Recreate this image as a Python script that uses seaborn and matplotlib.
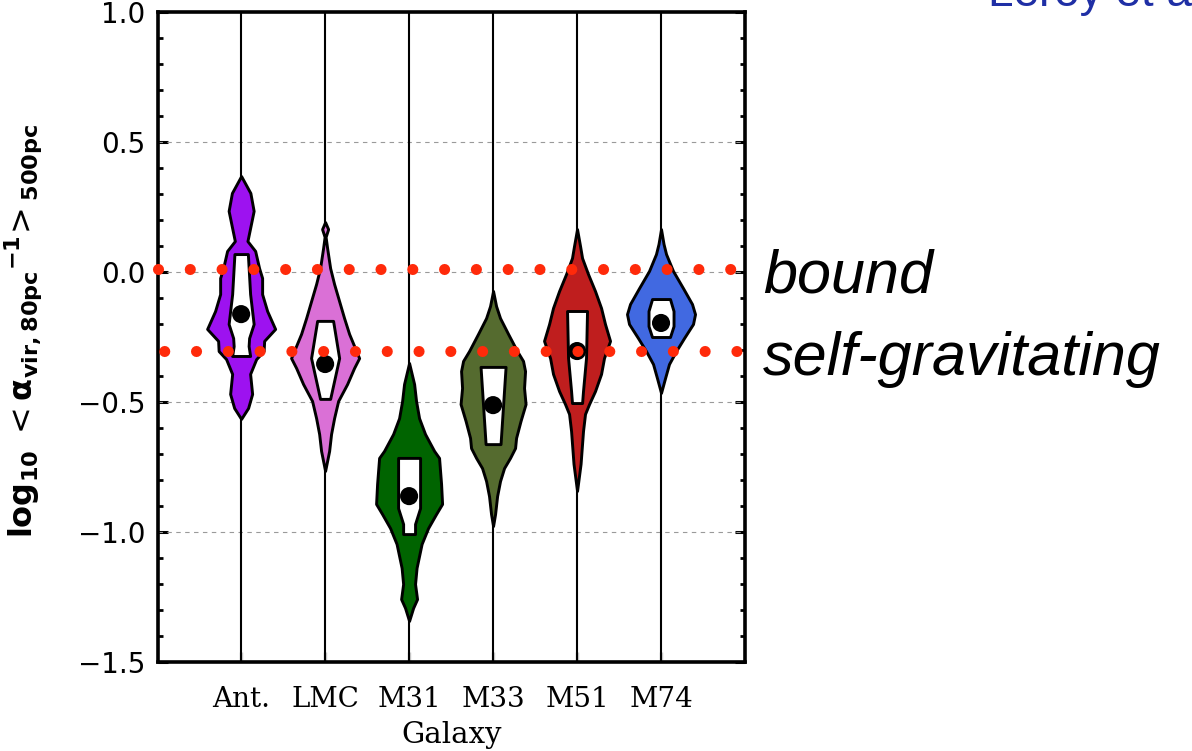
import numpy as np
import pandas as pd
import matplotlib
matplotlib.use("Agg")
import matplotlib.pyplot as plt
from matplotlib.ticker import MultipleLocator
import seaborn as sns

# ---- galaxies and colours ----
galaxies = ["Ant.", "LMC", "M31", "M33", "M51", "M74"]
colors = ["#9d12f0", "#da70d6", "#006400", "#556b2f", "#bf1e1e", "#4169e1"]

# ---- violin outlines: log10 level and half-width (in category units) ----
ant_y = [0.369, 0.304, 0.235, 0.169, 0.119, 0.081, 0.015, -0.023, -0.085, -0.150, -0.219,
         -0.265, -0.304, -0.335, -0.392, -0.469, -0.523, -0.565]
ant_w = [0.0, 0.110, 0.149, 0.107, 0.075, 0.167, 0.214, 0.250, 0.250, 0.310, 0.405,
         0.274, 0.268, 0.179, 0.107, 0.131, 0.083, 0.0]

lmc_y = [0.192, 0.165, 0.135, 0.092, 0.015, -0.046, -0.112, -0.177, -0.238, -0.331,
         -0.369, -0.431, -0.496, -0.562, -0.623, -0.688, -0.765]
lmc_w = [0.0, 0.036, 0.006, 0.024, 0.060, 0.107, 0.167, 0.226, 0.286, 0.405,
         0.345, 0.262, 0.155, 0.107, 0.071, 0.048, 0.0]

m31_y = [-0.350, -0.431, -0.496, -0.562, -0.623, -0.688, -0.715, -0.815, -0.892, -0.931,
         -0.985, -1.046, -1.138, -1.200, -1.258, -1.292, -1.342]
m31_w = [0.0, 0.060, 0.083, 0.119, 0.190, 0.298, 0.357, 0.381, 0.393, 0.321,
         0.226, 0.149, 0.089, 0.071, 0.095, 0.048, 0.0]

m33_y = [-0.073, -0.131, -0.177, -0.238, -0.304, -0.342, -0.381, -0.446, -0.508, -0.573,
         -0.638, -0.677, -0.715, -0.754, -0.804, -0.862, -0.931, -0.977]
m33_w = [0.0, 0.036, 0.083, 0.179, 0.286, 0.357, 0.381, 0.369, 0.387, 0.327,
         0.274, 0.262, 0.202, 0.131, 0.083, 0.048, 0.024, 0.0]

m51_y = [0.165, 0.100, 0.054, -0.008, -0.073, -0.138, -0.200, -0.265, -0.331, -0.392,
         -0.458, -0.508, -0.546, -0.612, -0.738, -0.842]
m51_w = [0.0, 0.036, 0.060, 0.131, 0.214, 0.286, 0.333, 0.393, 0.321, 0.286,
         0.214, 0.143, 0.095, 0.071, 0.042, 0.0]

m74_y = [0.165, 0.108, 0.069, 0.004, -0.062, -0.123, -0.162, -0.200, -0.254, -0.304,
         -0.354, -0.408, -0.465]
m74_w = [0.0, 0.030, 0.060, 0.143, 0.262, 0.369, 0.405, 0.381, 0.274, 0.179,
         0.095, 0.048, 0.0]

# ---- inter-quartile boxes: level and half-width ----
ant_box_y = [0.069, -0.085, -0.200, -0.254, -0.285, -0.323]
ant_box_w = [0.080, 0.107, 0.149, 0.095, 0.089, 0.107]
lmc_box_y = [-0.188, -0.331, -0.488]
lmc_box_w = [0.095, 0.167, 0.060]
m31_box_y = [-0.715, -0.908, -0.969, -1.008]
m31_box_w = [0.131, 0.131, 0.071, 0.071]
m33_box_y = [-0.365, -0.662]
m33_box_w = [0.149, 0.089]
m51_box_y = [-0.150, -0.330, -0.458, -0.504]
m51_box_w = [0.119, 0.107, 0.071, 0.060]
m74_box_y = [-0.104, -0.150, -0.208, -0.250]
m74_box_w = [0.107, 0.149, 0.149, 0.107]

# ---- medians ----
medians = [-0.162, -0.354, -0.862, -0.512, -0.304, -0.196]

# full range of each distribution (thin tails)
tail_lo, tail_hi = -1.5, 1.0

# reference levels
bound_level = 0.01
selfgrav_level = -0.305

outlines = [(ant_y, ant_w), (lmc_y, lmc_w), (m31_y, m31_w),
            (m33_y, m33_w), (m51_y, m51_w), (m74_y, m74_w)]
boxes = [(ant_box_y, ant_box_w), (lmc_box_y, lmc_box_w), (m31_box_y, m31_box_w),
         (m33_box_y, m33_box_w), (m51_box_y, m51_box_w), (m74_box_y, m74_box_w)]

sns.set_theme(style="white")
plt.rcParams["font.family"] = ["DejaVu Sans"]
plt.rcParams["mathtext.fontset"] = "dejavusans"
plt.rcParams["text.color"] = "black"

fig = plt.figure(figsize=(11.92, 7.51), dpi=100)
ax = fig.add_axes([158 / 1192, 1 - 662 / 751, 587 / 1192, 650 / 751])

positions = np.arange(len(galaxies))

# thin tails spanning the full range
for i in positions:
    ax.plot([i, i], [tail_lo, tail_hi], color="black", lw=1.5, zorder=2,
            solid_capstyle="butt")

# violin bodies and IQR boxes
for i, (yv, wv), (by, bw), c in zip(positions, outlines, boxes, colors):
    yv = np.asarray(yv); wv = np.asarray(wv)
    ax.fill_betweenx(yv, i - wv, i + wv, facecolor=c, edgecolor="black",
                     linewidth=2.1, zorder=3)
    by = np.asarray(by); bw = np.asarray(bw)
    ax.fill_betweenx(by, i - bw, i + bw, facecolor="white", edgecolor="black",
                     linewidth=2.1, zorder=4)

# medians
med_df = pd.DataFrame({"pos": positions, "median": medians})
sns.scatterplot(data=med_df, x="pos", y="median", color="black", s=170,
                edgecolor="none", zorder=5, ax=ax, legend=False)

# reference levels as dotted red lines
for lvl, off in [(bound_level, 0.0), (selfgrav_level, 2.3)]:
    ax.axhline(lvl, color="#ff2a0a", lw=8, linestyle=(off, (0.001, 2.86)),
               dash_capstyle="round", clip_on=False, zorder=6)

ax.set_xlim(-0.99, 6.0)
ax.set_ylim(-1.5, 1.0)

# y axis ticks
ax.yaxis.set_minor_locator(MultipleLocator(0.1))
yt = [-1.5, -1.0, -0.5, 0.0, 0.5, 1.0]
ax.set_yticks(yt)
ax.set_yticklabels([f"{v:.1f}".replace("-", "\u2212") for v in yt], fontsize=20,
                   family="DejaVu Sans", color="black")
ax.tick_params(axis="y", which="major", direction="in", length=7, width=2.2,
               left=True, right=True, pad=9, colors="black")
ax.tick_params(axis="y", which="minor", direction="in", length=3.6, width=2,
               left=True, right=True, colors="black")

# x axis
ax.set_xticks(positions)
ax.set_xticklabels(galaxies, fontsize=20, family="DejaVu Serif", color="black")
ax.tick_params(axis="x", which="major", direction="in", length=7, width=2.5,
               bottom=True, top=False, color="#cccccc", labelcolor="black", pad=17)
ax.tick_params(axis="x", which="minor", bottom=False, top=False)
ax.set_xlabel("Galaxy", fontsize=21, family="DejaVu Serif", labelpad=6, color="black")

# grid
for v in [0.5, 0.0, -0.5, -1.0]:
    ax.axhline(v, color="#9a9a9a", lw=0.8, linestyle=(0, (4, 4)), zorder=1)

ax.set_ylabel(r"$\mathbf{log_{10}}\ <\mathbf{\alpha}_{\mathbf{vir,80pc}}{}^{\mathbf{-1}}\!>_{\mathbf{500pc}}$",
              fontsize=23, color="black")
ax.yaxis.set_label_coords(-0.195, 0.51)

for s in ax.spines.values():
    s.set_linewidth(2.6)
    s.set_color("black")
    s.set_visible(True)

# annotations
fig.text(763 / 1192, 1 - 293 / 751, "bound", fontsize=44, style="italic",
         family="Liberation Sans", va="baseline", ha="left", color="black")
fig.text(763 / 1192, 1 - 375 / 751, "self-gravitating", fontsize=44, style="italic",
         family="Liberation Sans", va="baseline", ha="left", color="black")
fig.text(988 / 1192, 1 - 6 / 751, "Leroy et al.", fontsize=33, color="#1f2fa5",
         family="Liberation Sans", va="baseline", ha="left")

fig.savefig("out.png", dpi=100, facecolor="white")
